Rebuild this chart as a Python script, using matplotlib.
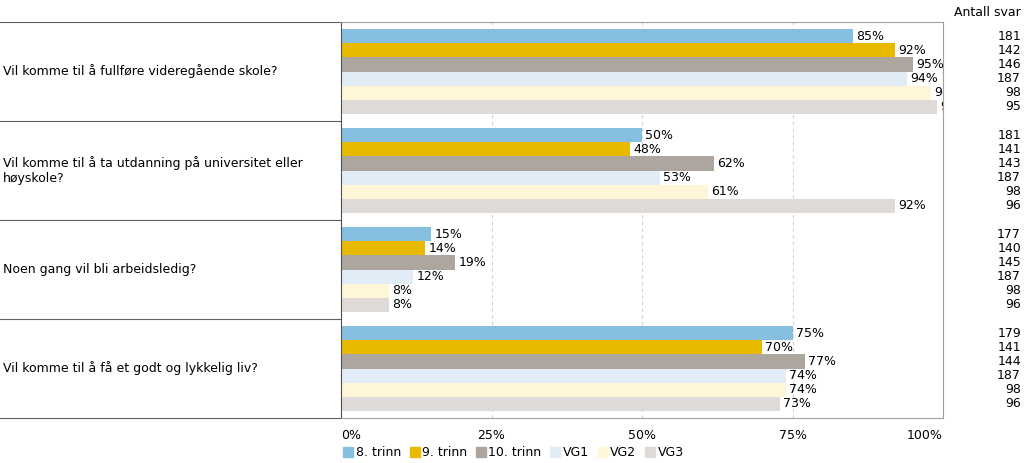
import matplotlib.pyplot as plt
from matplotlib.patches import Patch
from matplotlib.transforms import blended_transform_factory
import numpy as np

questions = [
    "Vil komme til å fullføre videregående skole?",
    "Vil komme til å ta utdanning på universitet eller\nhøyskole?",
    "Noen gang vil bli arbeidsledig?",
    "Vil komme til å få et godt og lykkelig liv?",
]
series = ["8. trinn", "9. trinn", "10. trinn", "VG1", "VG2", "VG3"]
colors = ["#86BFDF", "#E9B900", "#ADA69F", "#E2ECF6", "#FEF6D6", "#DEDAD8"]

pct = [
    [85, 92, 95, 94, 98, 99],
    [50, 48, 62, 53, 61, 92],
    [15, 14, 19, 12, 8, 8],
    [75, 70, 77, 74, 74, 73],
]
antall = [
    [181, 142, 146, 187, 98, 95],
    [181, 141, 143, 187, 98, 96],
    [177, 140, 145, 187, 98, 96],
    [179, 141, 144, 187, 98, 96],
]

W, H = 1024, 463
fig = plt.figure(figsize=(W / 100, H / 100), dpi=100)
x0, x1, y0, y1 = 341, 943, 22, 418
ax = fig.add_axes([x0 / W, 1 - y1 / H, (x1 - x0) / W, (y1 - y0) / H])

fs = 9
bh = 0.143
for i in range(len(questions)):
    for j in range(len(series)):
        y = i + (j - 2.5) * bh
        v = pct[i][j]
        ax.barh(y, v, height=bh, color=colors[j], zorder=2)
        ax.text(v + 0.5, y, f"{v}%", va="center", ha="left", fontsize=fs,
                clip_on=True, zorder=3)

ax.set_xlim(0, 100)
ax.set_ylim(len(questions) - 0.5, -0.5)
ax.set_yticks([])
ax.set_xticks([0, 25, 50, 75, 100])
ax.set_xticklabels(["0%", "25%", "50%", "75%", "100%"], fontsize=fs)
labs = ax.get_xticklabels()
labs[0].set_ha("left")
labs[-1].set_ha("right")
ax.tick_params(axis="x", length=0, pad=8)
for g in [25, 50, 75]:
    ax.axvline(g, color="#D0D0D0", lw=0.8, ls=(0, (3, 3)), zorder=1)

for s in ["top", "bottom", "right"]:
    ax.spines[s].set_color("#A0A0A0")
    ax.spines[s].set_linewidth(0.8)
ax.spines["left"].set_color("#505050")
ax.spines["left"].set_linewidth(0.8)

# left label table
tr = blended_transform_factory(ax.transAxes, ax.transData)
left = -x0 / (x1 - x0)
for b in np.arange(len(questions) + 1) - 0.5:
    ax.plot([left, 0], [b, b], transform=tr, color="#606060", lw=0.8,
            clip_on=False)
for i, q in enumerate(questions):
    ax.text(left + 3 / (x1 - x0), i, q, transform=tr, ha="left", va="center",
            fontsize=fs)

# Antall svar column
trf = blended_transform_factory(fig.transFigure, ax.transData)
fig.text(1021 / W, 1 - 12 / H, "Antall svar", ha="right", va="center",
         fontsize=fs)
for i in range(len(questions)):
    for j in range(len(series)):
        ax.text(1021 / W, i + (j - 2.5) * bh, str(antall[i][j]), transform=trf,
                ha="right", va="center", fontsize=fs)

handles = [Patch(color=c, label=s) for c, s in zip(colors, series)]
fig.legend(handles=handles, loc="center left", ncol=6, frameon=False,
           bbox_to_anchor=(338 / W, 1 - 453 / H), fontsize=fs,
           handlelength=0.8, handleheight=0.8, handletextpad=0.2,
           columnspacing=0.7, borderaxespad=0)

fig.savefig("out.png", dpi=100)
